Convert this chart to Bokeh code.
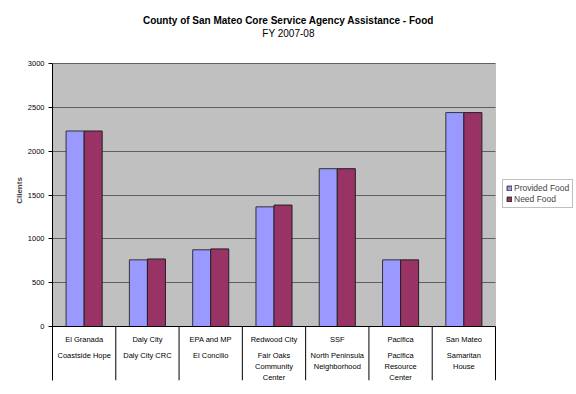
from bokeh.plotting import figure
from bokeh.models import (Label, Legend, LegendItem, FixedTicker, ColumnDataSource,
                          BoxAnnotation, Title)
from bokeh.transform import dodge
from bokeh.embed import file_html
from bokeh.resources import INLINE

# ---- data ----
cities = ["El Granada", "Daly City", "EPA and MP", "Redwood City", "SSF", "Pacifica", "San Mateo"]
agencies = ["Coastside Hope", "Daly City CRC", "El Concilio", "Fair Oaks\nCommunity\nCenter",
            "North Peninsula\nNeighborhood", "Pacifica\nResource\nCenter", "Samaritan\nHouse"]
provided_food = [2230, 760, 875, 1365, 1800, 760, 2440]
need_food = [2230, 770, 885, 1385, 1800, 760, 2440]
y_ticks = [0, 500, 1000, 1500, 2000, 2500, 3000]
series_names = ["Provided Food", "Need Food"]
series_colors = ["#9999ff", "#993366"]
title_text = "County of San Mateo Core Service Agency Assistance - Food"
subtitle_text = "FY 2007-08"
y_title = "Clients"

FONT = "Liberation Sans"
n = len(cities)
idx = list(range(1, n + 1))
y_max = y_ticks[-1]

# layout (pixels)
W, H = 576, 394
fl, fr, ft, fb = 52, 576, 0, 380        # frame edges
plot_top, plot_bottom = 63, 326          # pixel rows of value max and 0
cat_px = (495 - fl) / n                  # pixels per category
val_px = (plot_bottom - plot_top) / y_max
x_end = 0.5 + (fr - fl) / cat_px
y_start = -(fb - plot_bottom) / val_px
y_end = y_max + (plot_top - ft) / val_px

p = figure(width=W, height=H, output_backend="svg", toolbar_location=None,
           x_range=(0.5, x_end), y_range=(y_start, y_end),
           x_axis_location=None,
           min_border_left=fl, min_border_right=W - fr, min_border_top=ft, min_border_bottom=H - fb,
           background_fill_color="white", border_fill_color="white")
p.outline_line_color = None

# grey plot area
area = BoxAnnotation(left=0.5, right=n + 0.5, bottom=0, top=y_max,
                     fill_color="#c0c0c0", fill_alpha=1.0, line_color="#808080", line_width=1,
                     level="image")
p.add_layout(area)

p.xgrid.grid_line_color = None
p.ygrid.ticker = FixedTicker(ticks=y_ticks[1:])
p.ygrid.grid_line_color = "#606060"
p.ygrid.grid_line_width = 1
p.ygrid.cross_bounds = (0.5, n + 0.5)

bw = 0.285
src = ColumnDataSource(dict(x=idx, prov=provided_food, need=need_food))
r1 = p.vbar(x=dodge("x", -bw / 2), top="prov", width=bw, source=src,
            fill_color=series_colors[0], line_color="#333333", line_width=1)
r2 = p.vbar(x=dodge("x", bw / 2), top="need", width=bw, source=src,
            fill_color=series_colors[1], line_color="#222222", line_width=1)

# category axis line and dividers
p.segment(x0=[0.5], x1=[n + 0.5], y0=[0], y1=[0], line_color="black", line_width=1)
div_x = [i + 0.5 for i in range(1, n + 1)]
p.segment(x0=div_x, x1=div_x, y0=[0] * n, y1=[y_start] * n, line_color="black", line_width=1)

# y axis
ya = p.yaxis[0]
ya.ticker = FixedTicker(ticks=y_ticks)
ya.bounds = (y_start, y_max)
ya.axis_line_color = "black"
ya.major_tick_line_color = "black"
ya.major_tick_in = 0
ya.major_tick_out = 4
ya.minor_tick_line_color = None
ya.major_label_text_font = FONT
ya.major_label_text_font_size = "7.5px"
ya.major_label_text_color = "black"
ya.major_label_standoff = 4

p.add_layout(Title(text=y_title, text_font=FONT, text_font_size="8px", text_font_style="bold",
                   align="center", offset=0, standoff=2), "left")

# category labels
py = 1 / val_px
for i, (c, a) in enumerate(zip(cities, agencies)):
    p.add_layout(Label(x=idx[i], y=-13 * py, text=c, text_align="center", text_baseline="middle",
                       text_font=FONT, text_font_size="7.5px", text_color="black"))
    for j, line in enumerate(a.split("\n")):
        p.add_layout(Label(x=idx[i], y=-(29 + 11 * j) * py, text=line, text_align="center",
                           text_baseline="middle", text_font=FONT, text_font_size="7.5px",
                           text_color="black"))

# titles
tx = 0.5 + (288 - fl) / cat_px
p.add_layout(Label(x=tx, y=y_max + (plot_top - 20) * py, text=title_text, text_align="center",
                   text_baseline="middle", text_font=FONT, text_font_size="10px",
                   text_font_style="bold", text_color="black"))
p.add_layout(Label(x=tx, y=y_max + (plot_top - 33) * py, text=subtitle_text, text_align="center",
                   text_baseline="middle", text_font=FONT, text_font_size="10px",
                   text_color="black"))

legend = Legend(items=[LegendItem(label=series_names[0], renderers=[r1]),
                       LegendItem(label=series_names[1], renderers=[r2])],
                location=(450, fb - 208), margin=0, padding=3, spacing=1,
                glyph_width=6, glyph_height=6, label_standoff=2, label_height=9,
                label_text_font=FONT, label_text_font_size="8.5px",
                border_line_color="#808080", background_fill_color="white")
p.add_layout(legend)

open("out.html", "w").write(file_html(p, INLINE))
